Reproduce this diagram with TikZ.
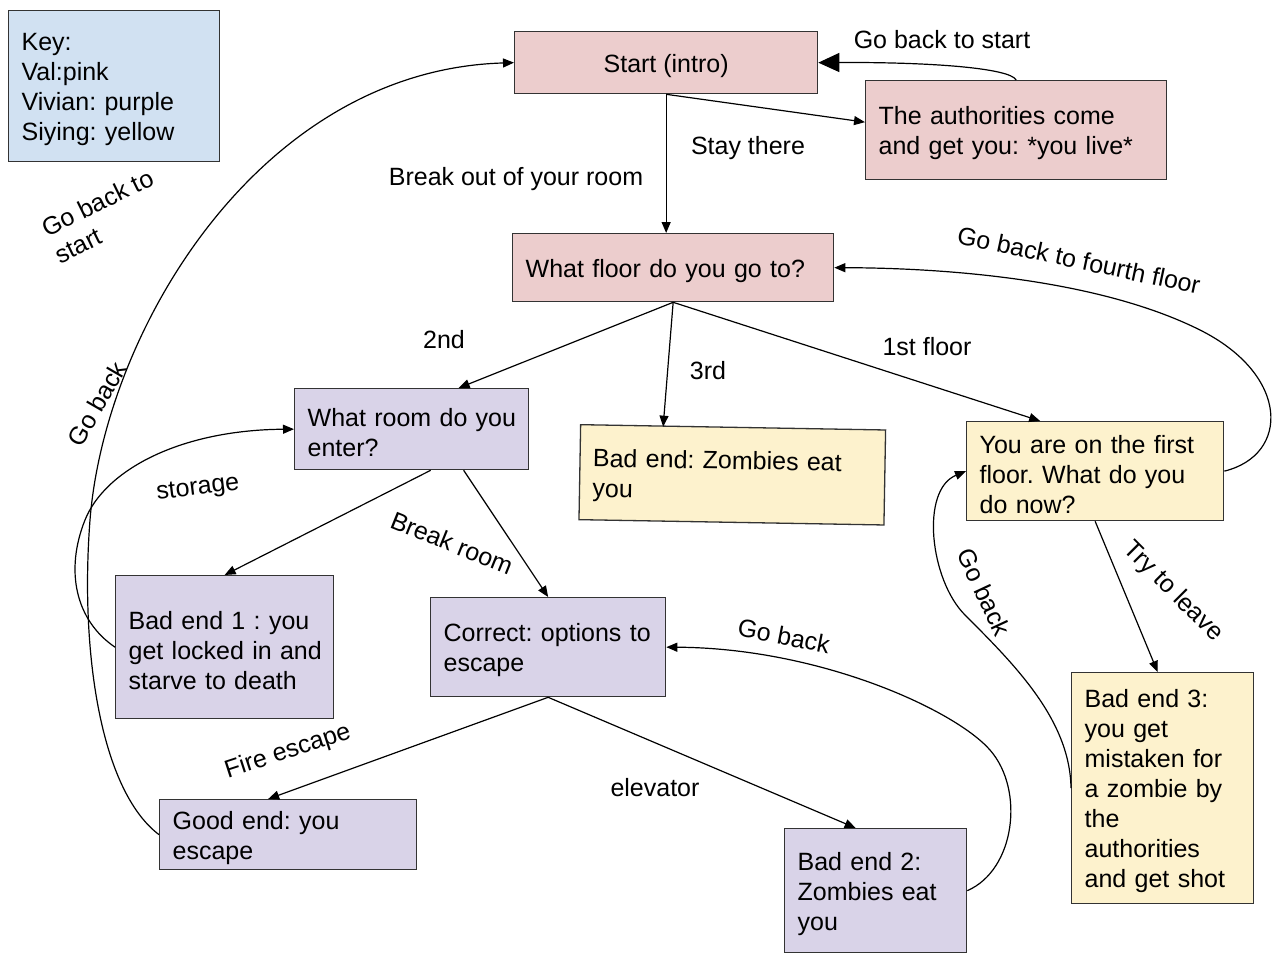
\documentclass[tikz,border=0pt]{standalone}
\usepackage{fontspec}
\setmainfont{Liberation Sans}
\usetikzlibrary{arrows.meta, calc}
\definecolor{valpink}{RGB}{236,205,205}
\definecolor{vivianpurple}{RGB}{217,211,232}
\definecolor{siyingyellow}{RGB}{253,242,205}
\definecolor{keyblue}{RGB}{209,225,242}
\definecolor{boxline}{RGB}{51,51,51}
\tikzstyle{choice} =[draw=boxline, line width=1.3pt, anchor=north west, align=left, inner xsep=13pt, inner ysep=0pt, font=\fontsize{25}{30}\selectfont, execute at begin node={\rightskip=0pt plus 1fil minus 20pt\rule{0pt}{24pt}}]
\tikzstyle{pathtext} =[inner sep=0pt, font=\fontsize{25}{30}\selectfont]
\tikzstyle{link} =[line width=1.2pt, -{Triangle[length=11pt,width=9pt]}]

\begin{document}
\frenchspacing
\begin{tikzpicture}[x=1pt, y=-1pt]
        \useasboundingbox (0,0) rectangle (1282,958);
        \fill[white] (0,0) rectangle (1282,958);

        % Key
        \node[choice, fill=keyblue, text width=185pt, minimum height=151pt] (key) at (8,10) {Key:\\Val:pink\\Vivian: purple\\Siying: yellow};

        %% Boxes
        \node[choice, fill=valpink, minimum width=303pt, minimum height=62pt] (start) at (514,31) {Start (intro)};
        \node[choice, fill=valpink, text width=275pt, minimum height=99pt] (auth) at (865,80) {The authorities come\\and get you: *you live*};
        \node[choice, fill=valpink, text width=295pt, minimum height=68pt] (floor) at (512,233) {What floor do you go to?};
        \node[choice, fill=vivianpurple, text width=208pt, minimum height=81pt] (room) at (294,388) {What room do you\\enter?};
        \node[choice, fill=siyingyellow, rotate=-1, text width=279pt, minimum height=95pt] (zomb) at (580,424) {Bad end: Zombies eat\\you};
        \node[choice, fill=siyingyellow, text width=231pt, minimum height=99pt] (first) at (966,421) {You are on the first\\floor. What do you\\do now?};
        \node[choice, fill=vivianpurple, text width=192pt, minimum height=143pt] (bad1) at (115,575) {Bad end 1 : you\\get locked in and\\starve to death};
        \node[choice, fill=vivianpurple, text width=209pt, minimum height=99pt] (correct) at (430,597) {Correct: options to\\escape};
        \node[choice, fill=vivianpurple, text width=231pt, minimum height=70pt] (good) at (159,799) {Good end: you\\escape};
        \node[choice, fill=vivianpurple, text width=156pt, minimum height=124pt] (bad2) at (784,828) {Bad end 2:\\Zombies eat\\you};
        \node[choice, fill=siyingyellow, text width=156pt, minimum height=231pt] (bad3) at (1071,672) {Bad end 3:\\you get\\mistaken for\\a zombie by\\the\\authorities\\and get shot};

        %% Arrows
        \draw[link] (start.south) -- (start.south |- floor.north);
        \draw[link] (start.south) -- ([yshift=8pt]auth.west);
        \draw[line width=1.2pt, -{Triangle[length=21pt,width=19pt]}] (auth.north) .. controls (1010,68) and (930,62) .. (start.east);
        \draw[link] (floor.south) -- ([xshift=47pt]room.north);
        \draw[link] (floor.south) -- ([xshift=-70pt]zomb.north);
        \draw[link] (floor.south) -- ([xshift=-55pt]first.north);
        \draw[link] (first.east) .. controls (1290,455) and (1290,375) .. (1200,330) .. controls (1100,280) and (950,268) .. (floor.east);
        \draw[link] ([xshift=19pt]room.south) -- (bad1.north);
        \draw[link] ([xshift=52pt]room.south) -- (correct.north);
        \draw[link] (bad1.west) .. controls (75,620) and (65,570) .. (85,520) .. controls (105,470) and (180,430) .. (room.west);
        \draw[link] (correct.south) -- ([xshift=-20pt]good.north);
        \draw[link] (correct.south) -- ([xshift=-20pt]bad2.north);
        \draw[link] (bad2.east) .. controls (1015,870) and (1025,790) .. (990,750) .. controls (955,710) and (820,648) .. (correct.east);
        \draw[link] (good.west) .. controls (100,790) and (80,650) .. (90,520) .. controls (105,330) and (260,70) .. (start.west);
        \draw[link] (first.south) -- ([xshift=-5pt]bad3.north);
        \draw[link] (bad3.west) .. controls (1070,720) and (1015,665) .. (965,615) .. controls (930,580) and (920,490) .. (first.west);

        %% Arrow texts
        \node[pathtext] (lstart) at (942,40) {Go back to start};
        \node[pathtext] (lstay) at (748,148) {Stay there};
        \node[pathtext] (lbreakout) at (516,179) {Break out of your room};
        \node[pathtext] (lsecond) at (444,340) {2nd};
        \node[pathtext] (lthird) at (708,371) {3rd};
        \node[pathtext] (lfirst) at (927,347) {1st floor};
        \node[pathtext, rotate=-12] (lfourth) at (1079,260) {Go back to fourth floor};
        \node[pathtext, rotate=7] (lstorage) at (198,489) {storage};
        \node[pathtext, rotate=-22] (lbreakroom) at (452,543) {Break room};
        \node[pathtext, rotate=18] (lfire) at (288,752) {Fire escape};
        \node[pathtext] (lelevator) at (655,788) {elevator};
        \node[pathtext, rotate=-11] (lbackcorrect) at (784,636) {Go back};
        \node[pathtext, rotate=-45] (lleave) at (1173,592) {Try to leave};
        \node[pathtext, rotate=-65] (lbackfirst) at (984,592) {Go back};
        \node[pathtext, rotate=60] (lbackstart) at (97,404) {Go back};
        \node[pathtext, rotate=26, align=left] (lbacktostart) at (104,216) {Go back to\\start};

    \end{tikzpicture}
\end{document}
